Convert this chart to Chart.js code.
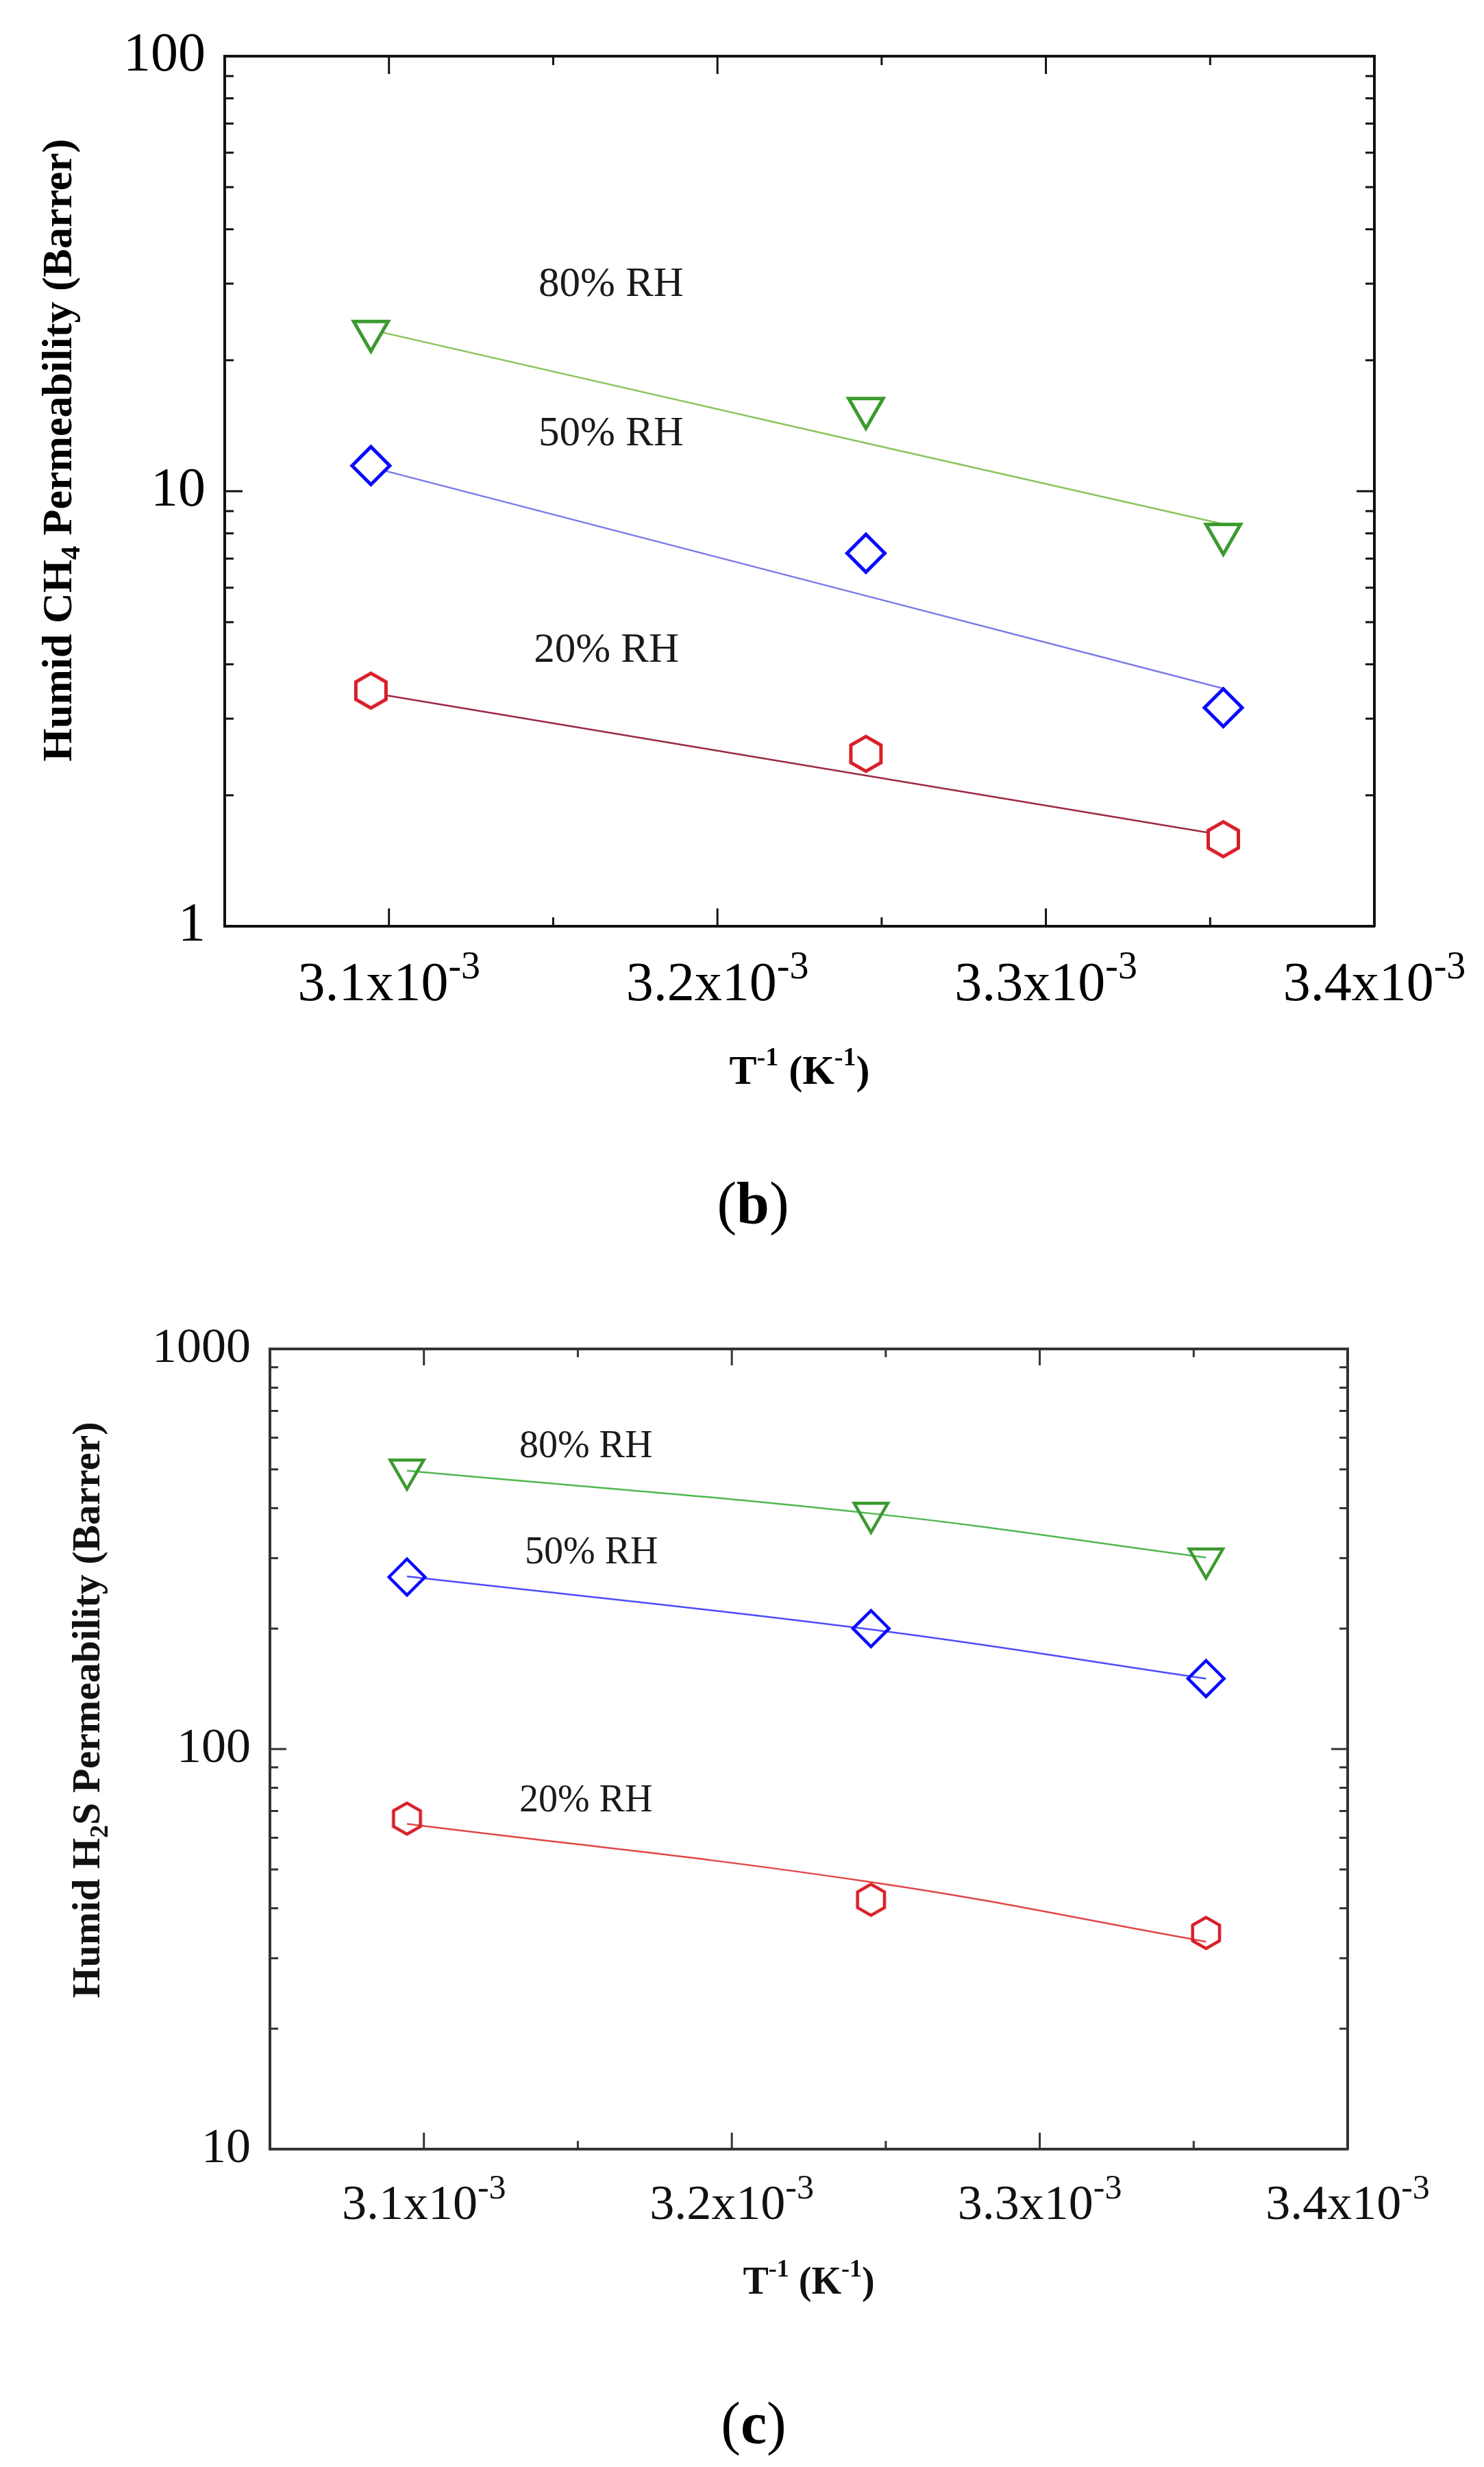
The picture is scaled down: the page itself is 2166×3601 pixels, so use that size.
<!DOCTYPE html>
<html>
<head>
<meta charset="utf-8">
<script src="https://cdn.jsdelivr.net/npm/chart.js@4.4.0/dist/chart.umd.min.js"></script>
<style>
  html, body { margin: 0; padding: 0; background: #fff; }
  body { width: 2166px; height: 3601px; position: relative; overflow: hidden; }
  canvas { position: absolute; left: 0; }
  #chartB { top: 0; }
  #chartC { top: 1850px; }
</style>
</head>
<body>
<canvas id="chartB" width="2166" height="1850"></canvas>
<canvas id="chartC" width="2166" height="1751"></canvas>
<script>
// inverse temperature (1/K) of the three runs: 50, 35 and 25 °C
const invT = [3.0945e-3, 3.2452e-3, 3.3540e-3];

const xRange = [3.05e-3, 3.40e-3];
const xMajorTicks = [3.1e-3, 3.2e-3, 3.3e-3];
const xMinorTicks = [3.15e-3, 3.25e-3, 3.35e-3];
const xTickValues = [3.1e-3, 3.2e-3, 3.3e-3, 3.4e-3];
const xTickText = ["3.1x10", "3.2x10", "3.3x10", "3.4x10"];
const xTickExp = "-3";

const rhLabels = ["80% RH", "50% RH", "20% RH"];

// (b) humid CH4 permeability, Barrer
const ch4RH80 = [23.3, 15.5, 7.96];
const ch4RH50 = [11.45, 7.2, 3.18];
const ch4RH20 = [3.48, 2.49, 1.585];
const ch4Fit80 = [23.5, 12.9, 8.4];
const ch4Fit50 = [11.36, 5.75, 3.52];
const ch4Fit20 = [3.44, 2.22, 1.62];
const ch4YTicks = [1, 10, 100];

// (c) humid H2S permeability, Barrer
const h2sRH80 = [499, 389, 299];
const h2sRH50 = [269, 200, 150];
const h2sRH20 = [67, 42, 34.7];
const h2sFit80 = [496, 388, 301];
const h2sFit50 = [270, 199, 150];
const h2sFit20 = [65, 46.5, 33];
const h2sYTicks = [10, 100, 1000];

const SERIF = "'Liberation Serif', 'Times New Roman', serif";
const W = 2166;
const GREEN = "#3b9a2f", BLUE = "#0a0aff", RED = "#d81e28";

function hexagonImage(R, lw, color, fill) {
    const size = Math.ceil(2 * R + 2 * lw + 2);
    const c = document.createElement("canvas");
    c.width = size;
    c.height = size;
    const g = c.getContext("2d");
    g.beginPath();
    for (let k = 0; k < 6; k++) {
        const ang = Math.PI / 2 + k * Math.PI / 3;
        const px = size / 2 + R * Math.cos(ang);
        const py = size / 2 - R * Math.sin(ang);
        if (k === 0) g.moveTo(px, py); else g.lineTo(px, py);
    }
    g.closePath();
    if (fill !== "transparent") { g.fillStyle = fill; g.fill(); }
    g.strokeStyle = color;
    g.lineWidth = lw;
    g.stroke();
    return c;
}

// draws a run of text pieces (sub/superscripts) one after another
function drawParts(ctx, parts, x, y, align) {
    let total = 0;
    parts.forEach(p => {
        ctx.font = (p.b ? "bold " : "") + p.s + "px " + SERIF;
        p.w = ctx.measureText(p.t).width;
        total += p.w;
    });
    let cx = align === "center" ? x - total / 2 : x;
    parts.forEach(p => {
        ctx.font = (p.b ? "bold " : "") + p.s + "px " + SERIF;
        ctx.fillText(p.t, cx, y + (p.dy || 0));
        cx += p.w;
    });
}

const framePlugin = {
    id: "frame",
    afterDraw(chart, args, o) {
        const ctx = chart.ctx, a = chart.chartArea;
        const xs = chart.scales.x, ys = chart.scales.y;
        ctx.save();

        // inward ticks on all four sides
        ctx.strokeStyle = o.axisColor;
        ctx.lineWidth = o.tickWidth;
        const line = (x1, y1, x2, y2) => { ctx.beginPath(); ctx.moveTo(x1, y1); ctx.lineTo(x2, y2); ctx.stroke(); };
        const xTick = (v, len) => {
            const px = xs.getPixelForValue(v);
            line(px, a.bottom, px, a.bottom - len);
            line(px, a.top, px, a.top + len);
        };
        const yTick = (v, len) => {
            const py = ys.getPixelForValue(v);
            line(a.left, py, a.left + len, py);
            line(a.right, py, a.right - len, py);
        };
        xMajorTicks.forEach(v => xTick(v, o.majorLen));
        xMinorTicks.forEach(v => xTick(v, o.minorLen));
        const yt = o.yTicks;
        yt.slice(1, -1).forEach(v => yTick(v, o.majorLen));
        for (let i = 0; i < yt.length - 1; i++)
            for (let m = 2; m <= 9; m++) yTick(yt[i] * m, o.minorLen);

        ctx.fillStyle = o.textColor;
        ctx.textAlign = "left";
        ctx.textBaseline = "alphabetic";

        // x tick labels with exponent
        xTickValues.forEach((v, i) => {
            drawParts(ctx, [
                { t: xTickText[i], s: o.xTickSize },
                { t: xTickExp, s: o.xExpSize, dy: -o.xExpRaise }
            ], xs.getPixelForValue(v), a.bottom + o.xLabelGap, "center");
        });

        // x title
        const xt = o.xTitle;
        drawParts(ctx, [
            { t: "T", s: xt.s, b: true },
            { t: "-1", s: xt.sup, b: true, dy: -xt.raise },
            { t: " (K", s: xt.s, b: true },
            { t: "-1", s: xt.sup, b: true, dy: -xt.raise },
            { t: ")", s: xt.s, b: true }
        ], (a.left + a.right) / 2 + xt.dx, a.bottom + xt.gap, "center");

        // y title, rotated
        const yT = o.yTitle;
        ctx.save();
        ctx.translate(a.left - yT.gap, (a.top + a.bottom) / 2 + yT.dy);
        ctx.rotate(-Math.PI / 2);
        drawParts(ctx, [
            { t: yT.pre, s: yT.s, b: true },
            { t: yT.sub, s: yT.subSize, b: true, dy: yT.subDrop },
            { t: yT.post, s: yT.s, b: true }
        ], 0, 0, "center");
        ctx.restore();

        // RH annotations
        ctx.fillStyle = o.noteColor;
        ctx.textBaseline = "middle";
        o.notes.forEach((n, i) => {
            drawParts(ctx, [{ t: rhLabels[i], s: o.noteSize }],
                xs.getPixelForValue(n.x), ys.getPixelForValue(n.y), "center");
        });

        // panel letter
        ctx.fillStyle = "#000";
        ctx.textBaseline = "alphabetic";
        drawParts(ctx, [
            { t: "(", s: o.panelSize },
            { t: o.panel, s: o.panelSize, b: true },
            { t: ")", s: o.panelSize }
        ], o.panelX, a.bottom + o.panelGap, "center");

        ctx.restore();
    }
};

function panel(id, cfg) {
    const canvas = document.getElementById(id);
    const H = canvas.height;
    const a = cfg.area;
    const pts = ys => invT.map((x, i) => ({ x: x, y: ys[i] }));
    const fitSet = (ys, color) => ({
        data: pts(ys), showLine: true, borderColor: color, borderWidth: cfg.fitWidth,
        pointRadius: 0, tension: cfg.tension, order: 2, xAxisID: "x", yAxisID: "y"
    });
    const markSet = (ys, extra) => Object.assign({
        data: pts(ys), showLine: false, order: 1, xAxisID: "x", yAxisID: "y",
        pointBorderWidth: cfg.markWidth, pointBackgroundColor: cfg.markFill
    }, extra);
    const yMin = cfg.yTicks[0], yMax = cfg.yTicks[cfg.yTicks.length - 1];
    const border = { display: true, color: cfg.axisColor, width: cfg.axisWidth };
    const noGrid = { display: false, drawTicks: false };

    new Chart(canvas.getContext("2d"), {
        type: "scatter",
        data: {
            datasets: [
                fitSet(cfg.fits[0], cfg.fitColors[0]),
                fitSet(cfg.fits[1], cfg.fitColors[1]),
                fitSet(cfg.fits[2], cfg.fitColors[2]),
                markSet(cfg.series[0], { pointStyle: "triangle", pointRotation: 180, pointRadius: cfg.tri, pointBorderColor: GREEN }),
                markSet(cfg.series[1], { pointStyle: "rectRot", pointRadius: cfg.dia, pointBorderColor: BLUE }),
                markSet(cfg.series[2], { pointStyle: hexagonImage(cfg.hex, cfg.markWidth, RED, cfg.markFill), pointRadius: cfg.hex, pointBorderColor: RED })
            ]
        },
        options: {
            responsive: false,
            animation: false,
            devicePixelRatio: 1,
            layout: { padding: { top: a.top, right: W - a.right, left: 0, bottom: 0 } },
            plugins: {
                legend: { display: false },
                tooltip: { enabled: false },
                frame: cfg.frame
            },
            scales: {
                x: {
                    type: "linear", position: "bottom", min: xRange[0], max: xRange[1],
                    grid: noGrid, border: border, ticks: { display: false },
                    afterFit: s => { s.height = H - a.bottom; }
                },
                x2: {
                    type: "linear", position: "top", min: xRange[0], max: xRange[1],
                    grid: noGrid, border: border, ticks: { display: false },
                    afterFit: s => { s.height = 0; }
                },
                y: {
                    type: "logarithmic", position: "left", min: yMin, max: yMax,
                    grid: noGrid, border: border,
                    afterBuildTicks: s => { s.ticks = cfg.yTicks.map(v => ({ value: v })); },
                    ticks: {
                        autoSkip: false, padding: 28, color: cfg.frame.textColor,
                        font: { family: SERIF, size: cfg.yTickSize },
                        callback: v => String(v)
                    },
                    afterFit: s => { s.width = a.left; }
                },
                y2: {
                    type: "logarithmic", position: "right", min: yMin, max: yMax,
                    grid: noGrid, border: border, ticks: { display: false },
                    afterFit: s => { s.width = 0; }
                }
            }
        },
        plugins: [framePlugin]
    });
}

document.addEventListener("DOMContentLoaded", () => {
    panel("chartB", {
        area: { left: 328, right: 2006, top: 82, bottom: 1352 },
        yTicks: ch4YTicks,
        series: [ch4RH80, ch4RH50, ch4RH20],
        fits: [ch4Fit80, ch4Fit50, ch4Fit20],
        fitColors: ["#8cc45c", "#7a7ae8", "#9c2a44"],
        fitWidth: 2.5, tension: 0,
        markFill: "#ffffff", markWidth: 5, tri: 29, dia: 27.5, hex: 25.4,
        axisColor: "#111", axisWidth: 4, yTickSize: 80,
        frame: {
            axisColor: "#111", tickWidth: 3, majorLen: 26, minorLen: 13,
            yTicks: ch4YTicks, textColor: "#000", noteColor: "#1a1a1a",
            xTickSize: 80, xExpSize: 56, xExpRaise: 32, xLabelGap: 108,
            xTitle: { s: 60, sup: 38, raise: 27, gap: 230, dx: 0 },
            yTitle: { pre: "Humid CH", sub: "4", post: " Permeability (Barrer)", s: 62, subSize: 40, subDrop: 12, gap: 224, dy: -60 },
            notes: [{ x: 3.1676e-3, y: 29.8 }, { x: 3.1676e-3, y: 13.5 }, { x: 3.1662e-3, y: 4.3 }],
            noteSize: 61,
            panel: "b", panelSize: 86, panelX: 1099, panelGap: 433
        }
    });

    panel("chartC", {
        area: { left: 394, right: 1967, top: 119, bottom: 1287 },
        yTicks: h2sYTicks,
        series: [h2sRH80, h2sRH50, h2sRH20],
        fits: [h2sFit80, h2sFit50, h2sFit20],
        fitColors: ["#4fb84f", "#4d4dff", "#e04848"],
        fitWidth: 2.5, tension: 0.4,
        markFill: "transparent", markWidth: 4.5, tri: 28.3, dia: 26.3, hex: 22.7,
        axisColor: "#333", axisWidth: 4, yTickSize: 72,
        frame: {
            axisColor: "#333", tickWidth: 3, majorLen: 24, minorLen: 12,
            yTicks: h2sYTicks, textColor: "#111", noteColor: "#1a1a1a",
            xTickSize: 72, xExpSize: 50, xExpRaise: 30, xLabelGap: 102,
            xTitle: { s: 56, sup: 36, raise: 25, gap: 211, dx: 0 },
            yTitle: { pre: "Humid H", sub: "2", post: "S Permeability (Barrer)", s: 58, subSize: 38, subDrop: 12, gap: 249, dy: -57 },
            notes: [{ x: 3.1526e-3, y: 569 }, { x: 3.1544e-3, y: 309 }, { x: 3.1526e-3, y: 74 }],
            noteSize: 56,
            panel: "c", panelSize: 86, panelX: 1100, panelGap: 429
        }
    });
});
</script>
</body>
</html>
